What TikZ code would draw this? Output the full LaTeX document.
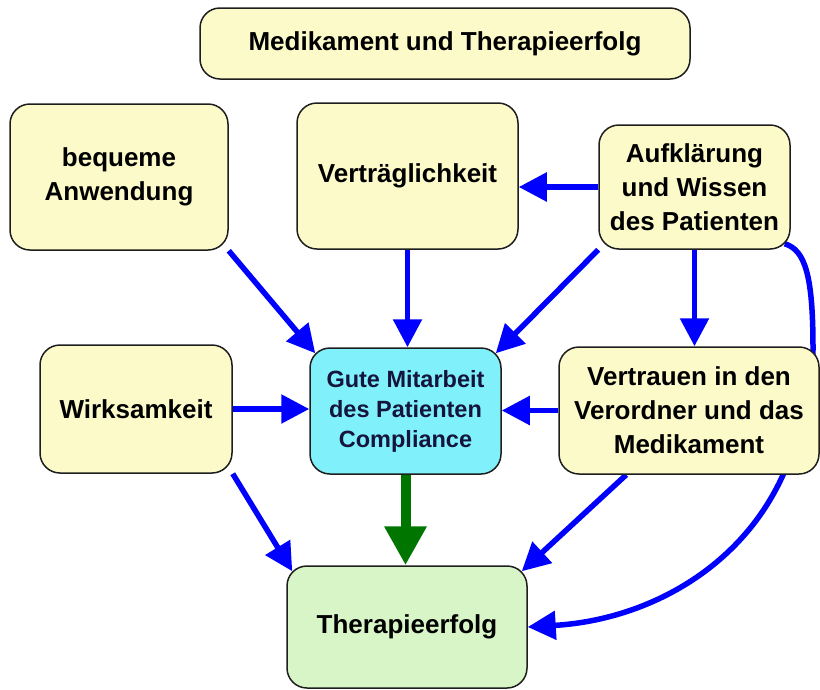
\documentclass[tikz,border=0pt]{standalone}
\usepackage{fontspec}
\setmainfont{Liberation Sans}
\usetikzlibrary{arrows.meta,backgrounds,calc}
\definecolor{boxyellow}{RGB}{252,250,200}
\definecolor{boxcyan}{RGB}{128,240,250}
\definecolor{boxgreen}{RGB}{216,245,200}
\definecolor{arrowblue}{RGB}{0,0,255}
\definecolor{arrowgreen}{RGB}{0,118,0}
\definecolor{edgegray}{RGB}{30,30,30}
\definecolor{navytext}{RGB}{20,20,60}
\tikzset{
  card/.style={draw=edgegray, line width=1.5pt, rounded corners=20pt, align=center, inner sep=0pt, font=\fontsize{26}{34}\selectfont\bfseries},
  yellowcard/.style={card, fill=boxyellow},
  bluearrow/.style={draw=arrowblue, line width=5.5pt, -{Triangle[length=28pt,width=28pt]}},
  greenarrow/.style={draw=arrowgreen, line width=10pt, -{Triangle[length=39pt,width=40pt]}},
}
\begin{document}
\begin{tikzpicture}[x=1pt,y=-1pt]
\useasboundingbox (0,0) rectangle (820,689);
\node[yellowcard, minimum width=490pt, minimum height=71pt] (title) at (445,43.5) {Medikament und Therapieerfolg};
\node[yellowcard, minimum width=218pt, minimum height=146pt] (bequem) at (119,177) {bequeme\\Anwendung};
\node[yellowcard, minimum width=221pt, minimum height=146pt] (vertr) at (407.5,176) {Verträglichkeit};
\node[yellowcard, minimum width=191pt, minimum height=124pt] (aufkl) at (694.5,187) {Aufklärung\\und Wissen\\des Patienten};
\node[yellowcard, minimum width=192pt, minimum height=128pt] (wirk) at (136,409) {Wirksamkeit};
\node[card, fill=boxcyan, text=navytext, minimum width=191pt, minimum height=126pt, font=\fontsize{23.5}{30}\selectfont\bfseries] (gute) at (405.5,411) {Gute Mitarbeit\\des Patienten\\Compliance};
\node[yellowcard, minimum width=260pt, minimum height=127pt] (vertrauen) at (689,410.5) {Vertrauen in den\\Verordner und das\\Medikament};
\node[card, fill=boxgreen, minimum width=240pt, minimum height=122pt] (erfolg) at (407,627) {Therapieerfolg};
\begin{scope}[on background layer]
\draw[bluearrow] (bequem.south east) -- ($(gute.north west)+(6,6)$);
\draw[bluearrow] (vertr.south) -- (vertr.south |- gute.north);
\draw[bluearrow] (aufkl.west) -- (aufkl.west -| vertr.east);
\draw[bluearrow] (aufkl.south west) -- ($(gute.north east)+(-6,6)$);
\draw[bluearrow] (aufkl.south) -- (aufkl.south |- vertrauen.north);
\draw[bluearrow] (wirk.east) -- (wirk.east -| gute.west);
\draw[bluearrow] (vertrauen.west) -- (vertrauen.west -| gute.east);
\draw[bluearrow] (wirk.south east) -- ($(erfolg.north west)+(6,6)$);
\draw[bluearrow] ($(vertrauen.south west)+(68,0)$) -- ($(erfolg.north east)+(-6,6)$);
\draw[greenarrow] (gute.south) -- (gute.south |- erfolg.north);
\draw[bluearrow] ($(aufkl.south east)+(-6,-6)$) .. controls (805,250) and (813,275) .. (813,348)
  .. controls (813,420) and (800,440) .. (783,475)
  .. controls (740,570) and (645,620) .. (erfolg.east);
\end{scope}
\end{tikzpicture}
\end{document}
